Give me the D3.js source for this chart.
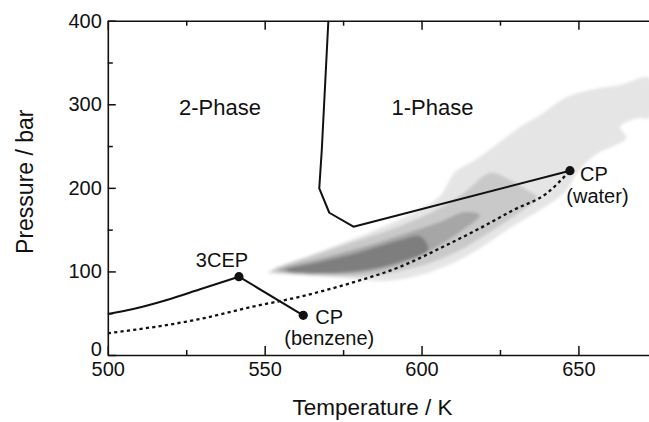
<!DOCTYPE html>
<html>
<head>
<meta charset="utf-8">
<script src="https://cdn.jsdelivr.net/npm/d3@7"></script>
<style>
html,body{margin:0;padding:0;background:#fff;}
svg{display:block;font-family:"Liberation Sans",Arial,Helvetica,sans-serif;}
</style>
</head>
<body>
<svg id="chart" width="649" height="422"></svg>
<script>
// ---------- data (Temperature K, Pressure bar) ----------
const xTicksMajor = [500, 550, 600, 650];
const xTicksMinor = [525, 575, 625];
const yTicksMajor = [0, 100, 200, 300, 400];
const yTicksMinor = [50, 150, 250, 350];

// benzene-side three-phase / critical line up to 3CEP
const leftLineT = [500, 508.1, 518.8, 529.4, 541.8];
const leftLineP = [49, 55, 65.8, 78.6, 93.7];
// 3CEP -> CP(benzene)
const benzeneLineT = [541.8, 562.3];
const benzeneLineP = [93.7, 47.5];
// critical curve from high pressure down to minimum, then to CP(water)
const critLineT = [570.3, 568.2, 567.4, 570.6, 578.3, 647.3];
const critLineP = [400, 245, 199.4, 170.2, 153.5, 220.5];
// dotted line
const dottedT = [500, 529.4, 545.3, 561.3, 577.2, 593.2, 608, 618.6, 629.3, 639.9, 647.3];
const dottedP = [26, 43.1, 57.1, 69.8, 85.8, 105.6, 131.6, 151.6, 173.5, 193.5, 220.5];

// points
const pointNames = ["3CEP", "CP (benzene)", "CP (water)"];
const pointT = [541.8, 562.3, 647.3];
const pointP = [93.7, 47.5, 220.5];

// shaded region layers (light -> dark)
const shade1T = [551.1,570.8,586.8,597.9,605.9,610.7,617.1,625.0,631.4,637.8,645.7,653.7,663.3,672.5,672.5,669.0,663.3,665.2,655.3,649.9,645.7,637.8,628.2,620.2,610.7,599.5,588.3,575.6,561.3,551.1];
const shade1P = [99.3,128.0,151.9,171.1,190.2,219.0,233.3,254.8,272.8,287.2,307.5,317.1,323.0,331.4,283.6,283.6,272.8,259.6,239.3,219.0,195.0,173.5,152.0,131.6,111.3,95.7,88.5,92.1,95.7,98.1];
const shade2T = [552.3,567.6,582.0,593.1,605.9,613.9,621.8,628.2,633.6,636.8,631.4,621.8,612.3,602.7,593.1,583.6,570.8,558.1];
const shade2P = [100.5,122.0,140.0,154.3,175.9,195.0,217.8,209.4,197.4,189.0,171.1,147.2,125.6,110.1,100.5,94.5,94.5,96.9];
const shade3T = [554.3,570.8,583.6,596.3,605.9,613.9,618.6,612.3,605.9,599.5,591.6,580.4,567.6,556.5];
const shade3P = [101.7,118.5,131.6,147.2,159.1,171.1,167.5,147.2,131.6,118.5,106.5,98.1,96.9,99.3];
const shade4T = [556.5,567.6,580.4,593.1,599.5,602.1,593.1,582.0,569.2,558.1];
const shade4P = [101.7,111.3,123.2,137.6,142.4,125.6,111.3,101.7,98.1,99.3];
const shadeColors = ["#e5e5e5", "#c9c9c9", "#a6a6a6", "#7e7e7e"];

// ---------- drawing ----------
const svg = d3.select("#chart");
const x = d3.scaleLinear().domain([500, 672.5]).range([107.8, 649]);
const y = d3.scaleLinear().domain([0, 400]).range([355, 20.7]);

const zip = (T, P) => T.map((t, i) => [t, P[i]]);

const defs = svg.append("defs");
defs.append("filter").attr("id", "soft")
  .append("feGaussianBlur").attr("stdDeviation", 1.6);
defs.append("clipPath").attr("id", "clip")
  .append("rect").attr("x", x(500)).attr("y", y(400)).attr("width", x(672.5) - x(500)).attr("height", y(0) - y(400));

const plot = svg.append("g").attr("clip-path", "url(#clip)");

const shades = [zip(shade1T, shade1P), zip(shade2T, shade2P), zip(shade3T, shade3P), zip(shade4T, shade4P)];
const area = d3.line().x(d => x(d[0])).y(d => y(d[1])).curve(d3.curveCatmullRomClosed.alpha(0.5));
plot.append("g").attr("filter", "url(#soft)")
  .selectAll("path").data(shades).join("path")
  .attr("d", area)
  .attr("fill", (d, i) => shadeColors[i])
  .attr("stroke", "none");

const line = d3.line().x(d => x(d[0])).y(d => y(d[1]));
const smooth = d3.line().x(d => x(d[0])).y(d => y(d[1])).curve(d3.curveMonotoneX);

plot.append("path").attr("d", smooth(zip(dottedT, dottedP)))
  .attr("fill", "none").attr("stroke", "#111").attr("stroke-width", 2.3)
  .attr("stroke-dasharray", "3.2,3.2");
plot.append("path").attr("d", smooth(zip(leftLineT, leftLineP)))
  .attr("fill", "none").attr("stroke", "#111").attr("stroke-width", 2);
plot.append("path").attr("d", line(zip(benzeneLineT, benzeneLineP)))
  .attr("fill", "none").attr("stroke", "#111").attr("stroke-width", 2);
plot.append("path").attr("d", line(zip(critLineT, critLineP)))
  .attr("fill", "none").attr("stroke", "#111").attr("stroke-width", 2).attr("stroke-linejoin", "round");

plot.selectAll("circle").data(pointT).join("circle")
  .attr("cx", d => x(d)).attr("cy", (d, i) => y(pointP[i])).attr("r", 4.6).attr("fill", "#111");

// axes
const axisColor = "#111";
function styleAxis(g) {
  g.selectAll("path.domain").attr("stroke", axisColor).attr("stroke-width", 1.6);
  g.selectAll(".tick line").attr("stroke", axisColor).attr("stroke-width", 1.5);
  g.selectAll("text").attr("font-size", 20).attr("fill", "#111")
    .attr("font-family", "'Liberation Sans', Arial, sans-serif");
}
const gx = svg.append("g").attr("transform", `translate(0,${y(0)})`)
  .call(d3.axisBottom(x).tickValues(xTicksMajor).tickSizeInner(-9).tickSizeOuter(0).tickPadding(7).tickFormat(d3.format("d")));
styleAxis(gx);
const gxm = svg.append("g").attr("transform", `translate(0,${y(0)})`)
  .call(d3.axisBottom(x).tickValues(xTicksMinor).tickSizeInner(-5).tickSizeOuter(0).tickFormat(""));
styleAxis(gxm);
gxm.select("path.domain").remove();

const gt = svg.append("g").attr("transform", `translate(0,${y(400)})`)
  .call(d3.axisTop(x).tickValues(xTicksMajor).tickSizeInner(-9).tickSizeOuter(0).tickFormat(""));
styleAxis(gt);
const gtm = svg.append("g").attr("transform", `translate(0,${y(400)})`)
  .call(d3.axisTop(x).tickValues(xTicksMinor).tickSizeInner(-5).tickSizeOuter(0).tickFormat(""));
styleAxis(gtm);
gtm.select("path.domain").remove();

const gy = svg.append("g").attr("transform", `translate(${x(500)},0)`)
  .call(d3.axisLeft(y).tickValues(yTicksMajor).tickSizeInner(-8).tickSizeOuter(0).tickPadding(6).tickFormat(d3.format("d")));
styleAxis(gy);
gy.selectAll(".tick text").filter(d => d === 0).attr("dy", "0.02em");
const gym = svg.append("g").attr("transform", `translate(${x(500)},0)`)
  .call(d3.axisLeft(y).tickValues(yTicksMinor).tickSizeInner(-5).tickSizeOuter(0).tickFormat(""));
styleAxis(gym);
gym.select("path.domain").remove();

// axis titles
svg.append("text").attr("x", 372.5).attr("y", 415).attr("text-anchor", "middle")
  .attr("font-size", 22.5).attr("fill", "#111").text("Temperature / K");
svg.append("text").attr("transform", `translate(33,${181.7}) rotate(-90)`).attr("text-anchor", "middle")
  .attr("font-size", 23).attr("fill", "#111").text("Pressure / bar");

// region labels
svg.append("text").attr("x", 220).attr("y", 115).attr("text-anchor", "middle")
  .attr("font-size", 22).attr("fill", "#111").text("2-Phase");
svg.append("text").attr("x", 432.5).attr("y", 115).attr("text-anchor", "middle")
  .attr("font-size", 22).attr("fill", "#111").text("1-Phase");

// point annotations
const ann = svg.append("g").attr("font-size", 20).attr("fill", "#111");
ann.append("text").attr("x", x(pointT[0]) - 17).attr("y", y(pointP[0]) - 10).attr("text-anchor", "middle").text("3CEP");
ann.append("text").attr("x", x(pointT[1]) + 12).attr("y", y(pointP[1]) + 9).text("CP");
ann.append("text").attr("x", x(pointT[1]) + 26).attr("y", y(pointP[1]) + 30).attr("text-anchor", "middle").text("(benzene)");
ann.append("text").attr("x", x(pointT[2]) + 10).attr("y", y(pointP[2]) + 10).text("CP");
ann.append("text").attr("x", x(pointT[2]) + 27.5).attr("y", y(pointP[2]) + 32).attr("text-anchor", "middle").text("(water)");
</script>
</body>
</html>
